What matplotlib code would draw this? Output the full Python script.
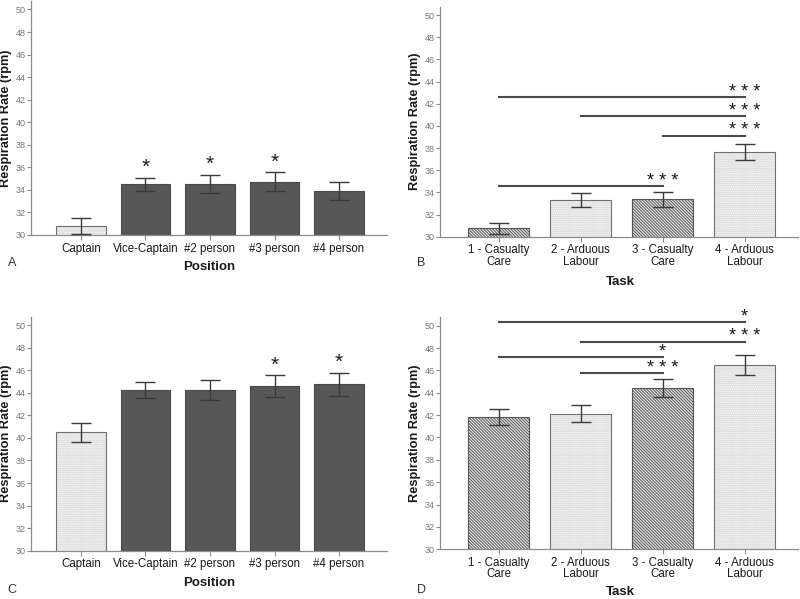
import matplotlib
matplotlib.use('Agg')
import matplotlib.pyplot as plt
import numpy as np

plt.rcParams['font.family'] = ['Liberation Sans', 'DejaVu Sans']
plt.rcParams['hatch.linewidth'] = 0.85

# data
pos_labels = ['Captain', 'Vice-Captain', '#2 person', '#3 person', '#4 person']
task_labels = ['1 - Casualty\nCare', '2 - Arduous\nLabour', '3 - Casualty\nCare', '4 - Arduous\nLabour']

a_mean = [30.8, 34.5, 34.5, 34.67, 33.9]
a_lo = [30.05, 33.9, 33.7, 33.88, 33.08]
a_hi = [31.5, 35.08, 35.35, 35.56, 34.7]
a_stars = ['', '*', '*', '*', '']

b_mean = [30.76, 33.31, 33.37, 37.62]
b_lo = [30.2, 32.65, 32.7, 36.9]
b_hi = [31.26, 33.97, 34.03, 38.34]
b_sig = [(0, 3, 42.6, '* * *'), (1, 3, 40.86, '* * *'), (2, 3, 39.1, '* * *'), (0, 2, 34.55, '* * *')]

c_mean = [40.5, 44.27, 44.25, 44.6, 44.75]
c_lo = [39.6, 43.56, 43.36, 43.6, 43.7]
c_hi = [41.35, 44.98, 45.16, 45.57, 45.8]
c_stars = ['', '', '', '*', '*']

d_mean = [41.8, 42.1, 44.4, 46.5]
d_lo = [41.12, 41.36, 43.63, 45.56]
d_hi = [42.52, 42.9, 45.2, 47.4]
d_sig = [(0, 3, 50.36, '*'), (1, 3, 48.57, '* * *'), (0, 2, 47.2, '*'), (1, 2, 45.74, '* * *')]

pos_style = ['dots', 'dark', 'dark', 'dark', 'dark']
task_style = ['diag', 'dots', 'diag', 'dots']

W, H = 800, 599
fig = plt.figure(figsize=(8, 5.99), dpi=100)


def px_axes(l, r, b, t):
    return fig.add_axes([l / W, 1 - b / H, (r - l) / W, (b - t) / H])


STYLES = {
    'dark': dict(face='#575757', hatch=None, hcol='#575757', edge='#4a4a4a'),
    'dots': dict(face='white', hatch='.' * 9, hcol='#c8c8c8', edge='#707070'),
    'diag': dict(face='#eeeeee', hatch='\\' * 11, hcol='#6a6a6a', edge='#555555'),
}


def panel(ax, labels, mean, lo, hi, styles, width, xlim):
    x = np.arange(len(mean))
    for xi, m, st in zip(x, mean, styles):
        s = STYLES[st]
        ax.bar(xi, m, width=width, color=s['face'], edgecolor=s['hcol'],
               hatch=s['hatch'], linewidth=0, zorder=2)
        ax.bar(xi, m, width=width, fill=False, edgecolor=s['edge'],
               linewidth=0.8, zorder=3)
    yerr = [np.array(mean) - np.array(lo), np.array(hi) - np.array(mean)]
    ax.errorbar(x, mean, yerr=yerr, fmt='none', ecolor='#3a3a3a',
                elinewidth=1.0, capsize=7, capthick=1.0, zorder=4)
    ax.set_xlim(*xlim)
    ax.set_ylim(30, 50.75)
    ax.set_yticks(np.arange(30, 51, 2))
    ax.set_xticks(x)
    ax.set_xticklabels(labels, fontsize=8.3, linespacing=0.95)
    for sp in ['top', 'right']:
        ax.spines[sp].set_visible(False)
    for sp in ['left', 'bottom']:
        ax.spines[sp].set_color('#8c8c8c')
        ax.spines[sp].set_linewidth(0.9)
    ax.tick_params(axis='y', colors='#8c8c8c', labelcolor='#777777',
                   labelsize=6.5, length=3, width=0.8, pad=0.5)
    ax.tick_params(axis='x', colors='#8c8c8c', labelcolor='#1a1a1a',
                   length=3.5, width=0.8, pad=2)
    ax.text(-0.07, 0.5, 'Respiration Rate (rpm)', rotation=90, fontsize=9.2,
            fontweight='bold', ha='center', va='center', transform=ax.transAxes,
            color='#1a1a1a')
    return x


# A
axA = px_axes(31, 387, 235, 1)
xA = panel(axA, pos_labels, a_mean, a_lo, a_hi, pos_style, 0.77, (-0.775, 4.744))
for xi, h, st in zip(xA, a_hi, a_stars):
    if st:
        axA.text(xi, h + 0.9, st, ha='center', va='center', fontsize=15, color='#1a1a1a')

# C
axC = px_axes(31, 387, 550.7, 316.7)
xC = panel(axC, pos_labels, c_mean, c_lo, c_hi, pos_style, 0.77, (-0.775, 4.744))
for xi, h, st in zip(xC, c_hi, c_stars):
    if st:
        axC.text(xi, h + 0.9, st, ha='center', va='center', fontsize=15, color='#1a1a1a')

# B
axB = px_axes(440, 798, 236.7, 6.7)
xB = panel(axB, task_labels, b_mean, b_lo, b_hi, task_style, 0.75, (-0.713, 3.65))

# D
axD = px_axes(440, 798, 549.3, 317.3)
xD = panel(axD, task_labels, d_mean, d_lo, d_hi, task_style, 0.75, (-0.713, 3.65))

for ax, sig in [(axB, b_sig), (axD, d_sig)]:
    for i, j, y, st in sig:
        ax.plot([i, j], [y, y], color='#4a4a4a', lw=1.5, zorder=5, clip_on=False)
        ax.text(j, y + 0.45, st, ha='center', va='center', fontsize=13,
                color='#1a1a1a', clip_on=False)

# axis titles and panel letters
fig.text(209 / W, 1 - 267 / H, 'Position', ha='center', va='center', fontsize=9.5, fontweight='bold', color='#1a1a1a')
fig.text(209 / W, 1 - 583 / H, 'Position', ha='center', va='center', fontsize=9.5, fontweight='bold', color='#1a1a1a')
fig.text(620 / W, 1 - 282 / H, 'Task', ha='center', va='center', fontsize=9.5, fontweight='bold', color='#1a1a1a')
fig.text(620 / W, 1 - 592 / H, 'Task', ha='center', va='center', fontsize=9.5, fontweight='bold', color='#1a1a1a')

for lab, x, y in [('A', 12, 263), ('B', 421, 263), ('C', 12, 590), ('D', 421, 590)]:
    fig.text(x / W, 1 - y / H, lab, ha='center', va='center', fontsize=9, color='#333333')

fig.savefig('out.png', dpi=100)
